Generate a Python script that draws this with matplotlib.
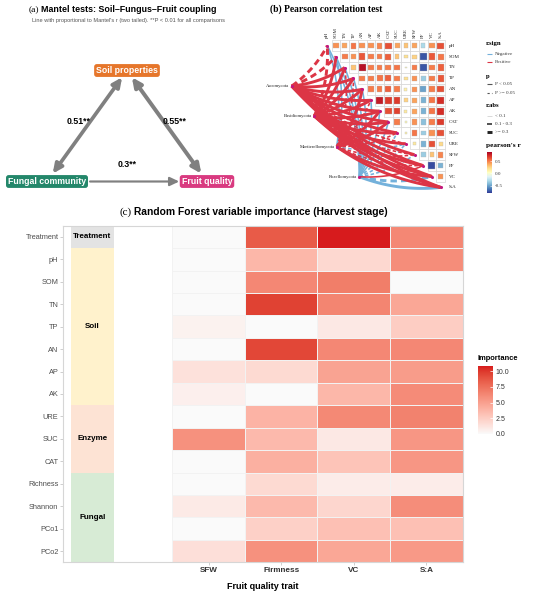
import numpy as np
import matplotlib
matplotlib.use("Agg")
import matplotlib.pyplot as plt
from matplotlib.patches import Rectangle, FancyArrowPatch
from matplotlib.colors import ListedColormap, Normalize, to_rgb
from matplotlib.cm import ScalarMappable

# ======================= DATA =======================
# (a) Mantel tests
mantel_nodes = ["Soil properties", "Fungal community", "Fruit quality"]
mantel_colors = ["#E6762B", "#23876A", "#D93A80"]
mantel_from = ["Fungal community", "Soil properties", "Fungal community"]
mantel_to = ["Soil properties", "Fruit quality", "Fruit quality"]
mantel_r = [0.51, 0.55, 0.3]
mantel_sig = ["**", "**", "**"]
mantel_twoway = [True, True, False]

# (b) Pearson correlation among soil / fruit variables (upper triangle)
env_vars = ["pH", "SOM", "TN", "TP", "AN", "AP", "AK", "CAT", "SUC", "URE",
            "SFW", "FF", "VC", "S:A"]
corr_pH = [0.45, 0.40, 0.52, 0.45, 0.45, 0.48, 0.62, 0.40, 0.30, 0.40, -0.30, 0.45, 0.62]
corr_SOM = [0.50, 0.45, 0.60, 0.50, 0.50, 0.58, 0.30, 0.20, 0.25, -0.72, 0.60, 0.52]
corr_TN = [0.30, 0.82, 0.50, 0.50, 0.50, 0.52, 0.05, 0.50, -0.72, 0.50, 0.58]
corr_TP = [0.50, 0.50, 0.52, 0.58, 0.50, 0.20, 0.45, -0.35, 0.50, 0.60]
corr_AN = [0.50, 0.50, 0.58, 0.50, 0.12, 0.45, -0.50, 0.50, 0.62]
corr_AP = [0.78, 0.68, 0.68, 0.25, 0.40, -0.45, 0.52, 0.72]
corr_AK = [0.62, 0.66, 0.15, 0.40, -0.45, 0.52, 0.72]
corr_CAT = [0.50, 0.05, 0.45, -0.40, 0.50, 0.68]
corr_SUC = [0.10, 0.52, -0.35, 0.45, 0.62]
corr_URE = [0.15, -0.45, 0.62, 0.22]
corr_SFW = [-0.35, 0.30, 0.48]
corr_FF = [-0.75, -0.45]
corr_VC = [0.45]
corr_upper = [corr_pH, corr_SOM, corr_TN, corr_TP, corr_AN, corr_AP, corr_AK,
              corr_CAT, corr_SUC, corr_URE, corr_SFW, corr_FF, corr_VC, []]

taxa = ["Ascomycota", "Basidiomycota", "Mortierellomycota", "Rozellomycota"]
r_Asc = [0.32, 0.35, 0.45, 0.42, 0.45, 0.48, 0.45, 0.45, 0.40, 0.25, 0.35, 0.35, 0.42, 0.45]
p_Asc = [0.08, 0.07, 0.01, 0.01, 0.01, 0.01, 0.01, 0.01, 0.02, 0.10, 0.04, 0.03, 0.01, 0.01]
r_Bas = [0.30, 0.38, 0.42, 0.40, 0.42, 0.45, 0.44, 0.42, 0.38, 0.32, 0.28, 0.32, 0.40, 0.42]
p_Bas = [0.06, 0.02, 0.01, 0.01, 0.01, 0.01, 0.01, 0.01, 0.03, 0.04, 0.09, 0.04, 0.01, 0.01]
r_Mor = [-0.22, -0.18, 0.28, 0.25, 0.32, 0.28, 0.32, 0.36, 0.25, -0.20, 0.24, 0.22, 0.38, 0.36]
p_Mor = [0.03, 0.04, 0.07, 0.08, 0.03, 0.09, 0.02, 0.01, 0.08, 0.12, 0.10, 0.09, 0.01, 0.01]
r_Roz = [-0.25, -0.24, -0.26, -0.25, -0.26, -0.22, -0.20, -0.24, -0.18, -0.22, -0.16, 0.28, -0.34, -0.40]
p_Roz = [0.03, 0.03, 0.02, 0.03, 0.02, 0.04, 0.04, 0.03, 0.09, 0.10, 0.12, 0.03, 0.07, 0.01]
link_r = [r_Asc, r_Bas, r_Mor, r_Roz]
link_p = [p_Asc, p_Bas, p_Mor, p_Roz]

# (c) Random forest importance
predictors = ["Treatment", "pH", "SOM", "TN", "TP", "AN", "AP", "AK",
              "URE", "SUC", "CAT", "Richness", "Shannon", "PCo1", "PCo2"]
traits = ["SFW", "Firmness", "VC", "S:A"]
imp_SFW = [0.0, 0.0, 0.0, 0.0, 0.5, 0.0, 1.4, 0.6, 0.0, 5.8, 0.0, 0.0, 0.9, 0.0, 1.5]
imp_Firmness = [8.5, 3.7, 6.3, 9.6, 0.0, 9.4, 1.8, 0.0, 3.9, 3.6, 4.1, 1.8, 3.6, 2.3, 5.8]
imp_VC = [10.8, 1.9, 6.8, 6.4, 1.0, 6.3, 4.8, 3.7, 6.2, 1.0, 3.0, 0.8, 2.0, 3.2, 4.6]
imp_SA = [6.3, 6.0, 0.0, 4.6, 2.5, 6.3, 5.2, 6.1, 6.6, 5.5, 5.5, 0.8, 6.0, 3.2, 5.3]
groups = ["Treatment", "Soil", "Enzyme", "Fungal"]
group_sizes = [1, 7, 3, 4]
group_colors = ["#E3E3E3", "#FFF2CC", "#FDE3D4", "#D7EBD5"]

# ======================= FIGURE =======================
W, H = 550, 595
fig = plt.figure(figsize=(W / 100, H / 100), dpi=100)
SANS = "Liberation Sans"
SERIF = "Liberation Serif"


def px_axes(x0, y0, x1, y1):
    return fig.add_axes([x0 / W, 1 - y1 / H, (x1 - x0) / W, (y1 - y0) / H])


# overlay for panel (a) and titles
ov = px_axes(0, 0, W, H)
ov.set_xlim(0, W)
ov.set_ylim(H, 0)
ov.axis("off")
ov.patch.set_visible(False)

# ---------- (a) ----------
ov.text(39.5, 10, "(a)", fontfamily=SERIF, fontsize=6.8, ha="right", va="center")
ov.text(40.7, 10, "Mantel tests: Soil\u2013Fungus\u2013Fruit coupling", fontfamily=SANS,
        fontsize=6.4, fontweight="bold", ha="left", va="center")
ov.text(128, 20.5, "Line with proportional to Mantel's r (two tailed). **P < 0.01 for all comparisons",
        fontfamily=SANS, fontsize=4.1, color="#555555", ha="center", va="center")

node_pos = {"Soil properties": (127, 70.5), "Fungal community": (47, 181.5),
            "Fruit quality": (207, 181.5)}
node_shrink = {("Fungal community", "Soil properties"): (7, 6),
               ("Soil properties", "Fruit quality"): (6, 7),
               ("Fungal community", "Fruit quality"): (31, 20)}
label_off = [(-8, -4), (8, -4), (0, -17)]
for k in range(len(mantel_r)):
    a = node_pos[mantel_from[k]]
    b = node_pos[mantel_to[k]]
    sA, sB = node_shrink[(mantel_from[k], mantel_to[k])]
    style = "<|-|>" if mantel_twoway[k] else "-|>"
    arr = FancyArrowPatch(a, b, arrowstyle=f"{style},head_length=5.5,head_width=2.6",
                          mutation_scale=1, lw=5.2 * mantel_r[k], color="#808080",
                          shrinkA=sA, shrinkB=sB, zorder=2)
    ov.add_patch(arr)
    mx, my = (a[0] + b[0]) / 2 + label_off[k][0], (a[1] + b[1]) / 2 + label_off[k][1]
    ov.text(mx, my, f"{mantel_r[k]:g}{mantel_sig[k]}", fontfamily=SANS, fontsize=6.3,
            fontweight="bold", ha="center", va="center", zorder=3)
for name, col in zip(mantel_nodes, mantel_colors):
    x, y = node_pos[name]
    ov.text(x, y, name, fontfamily=SANS, fontsize=6.3, fontweight="bold", color="white",
            ha="center", va="center", zorder=4,
            bbox=dict(boxstyle="round,pad=0.22,rounding_size=0.3", fc=col, ec="none"))

# ---------- (b) ----------
ov.text(270, 9.5, "(b) Pearson correlation test", fontfamily=SERIF, fontsize=6.9,
        fontweight="bold", ha="left", va="center")

X0, DX, Y0, DY = 327.3, 8.72, 45.7, 10.9   # pixel position of cell (0,0) & pitch
axb = px_axes(250, 0, 550, 195)
axb.set_xlim((250 - X0) / DX, (550 - X0) / DX)
axb.set_ylim((195 - Y0) / DY, (0 - Y0) / DY)
axb.axis("off")
axb.patch.set_visible(False)

cmap_r = plt.get_cmap("RdYlBu_r")
norm_r = Normalize(-0.81, 0.88)
n = len(env_vars)
for i, row in enumerate(corr_upper):
    for kk, r in enumerate(row):
        j = i + 1 + kk
        axb.add_patch(Rectangle((j - 0.5, i - 0.5), 1, 1, fc="white", ec="#D2D2D2",
                                lw=0.45, zorder=1))
        side = min(0.88, 0.84 * np.sqrt(abs(r) / 0.82)) * DX
        w, h = side / DX, side / DY
        axb.add_patch(Rectangle((j - w / 2, i - h / 2), w, h, fc=cmap_r(norm_r(r)),
                                ec="#B5B5B5", lw=0.25, zorder=2))
for i, v in enumerate(env_vars):
    axb.text(n - 0.5 + (449 - (X0 + DX * (n - 0.5))) / DX, i, v, fontfamily=SERIF,
             fontsize=3.6, ha="left", va="center", color="#222222")
    axb.text(i, -0.72, v, fontfamily=SERIF, fontsize=3.6, rotation=90, ha="center",
             va="bottom", color="#222222")

taxa_cell = [(-4.08, 3.70), (-1.49, 6.45), (1.08, 9.27), (3.67, 12.02)]
RED, BLUE = "#DC3545", "#74B1DB"
links = []
for t in range(len(taxa)):
    for i in range(n):
        links.append((t, i, link_r[t][i], link_p[t][i]))


def width_of(r):
    a = abs(r)
    return 0.45 if a < 0.1 else (1.15 if a < 0.3 else 2.1)


links.sort(key=lambda L: (L[2] > 0, width_of(L[2])))
tt = np.linspace(0, 1, 40)
for t, i, r, p in links:
    sx, sy = X0 + DX * taxa_cell[t][0], Y0 + DY * taxa_cell[t][1]
    ex, ey = X0 + DX * i, Y0 + DY * i
    k = 0.12
    cx = (sx + ex) / 2 - k * (ey - sy)
    cy = (sy + ey) / 2 + k * (ex - sx)
    bx = (1 - tt) ** 2 * sx + 2 * (1 - tt) * tt * cx + tt ** 2 * ex
    by = (1 - tt) ** 2 * sy + 2 * (1 - tt) * tt * cy + tt ** 2 * ey
    ls = "-" if p < 0.05 else (0, (2.2, 1.4))
    axb.plot((bx - X0) / DX, (by - Y0) / DY, color=RED if r > 0 else BLUE,
             lw=width_of(r), ls=ls, solid_capstyle="butt", zorder=3)

axb.scatter(range(n), range(n), s=5, color="#C2187E", zorder=5, lw=0)
for t, name in enumerate(taxa):
    axb.scatter([taxa_cell[t][0]], [taxa_cell[t][1]], s=5, color="#C2187E", zorder=5, lw=0)
    axb.text(taxa_cell[t][0] - 0.25, taxa_cell[t][1], name, fontfamily=SERIF, fontsize=3.4,
             ha="right", va="center", color="#222222")

# legend of (b), placed in figure pixels
LX = 486
ov.text(LX, 43, "r.sign", fontfamily=SERIF, fontsize=4.8, fontweight="bold", va="center")
leg_items = [(54.3, "Negative", BLUE, "-", 0.8), (62.3, "Positive", RED, "-", 0.8)]
ov.text(LX, 76.7, "p", fontfamily=SERIF, fontsize=4.8, fontweight="bold", va="center")
leg_items += [(84.3, "P < 0.05", "#555555", "-", 0.8), (92.7, "P >= 0.05", "#555555", (0, (2, 2)), 0.8)]
ov.text(LX, 105.7, "r.abs", fontfamily=SERIF, fontsize=4.8, fontweight="bold", va="center")
leg_items += [(116, "< 0.1", "#BBBBBB", "-", 0.4), (124.3, "0.1 - 0.3", "#222222", "-", 1.1),
              (132.3, ">= 0.3", "#222222", "-", 2.1)]
for y, lab, col, ls, lw in leg_items:
    ov.plot([487.3, 491.7], [y, y], color=col, ls=ls, lw=lw, solid_capstyle="butt")
    ov.text(495, y, lab, fontfamily=SERIF, fontsize=3.6, va="center", color="#333333")
ov.text(LX, 145.7, "pearson's r", fontfamily=SERIF, fontsize=5.2, fontweight="bold", va="center")
caxb = px_axes(486.7, 151.7, 492.3, 193.3)
cbb = fig.colorbar(ScalarMappable(norm=norm_r, cmap=cmap_r), cax=caxb, ticks=[-0.5, 0, 0.5])
cbb.outline.set_visible(False)
cbb.ax.set_yticklabels(["-0.5", "0.0", "0.5"])
caxb.tick_params(labelsize=3.6, length=1.5, width=0.4, color="white", direction="in", pad=1.5,
                 labelcolor="#333333")
for lab in caxb.get_yticklabels():
    lab.set_fontfamily(SERIF)

# ---------- (c) ----------
ov.text(132, 211.7, "(c)", fontfamily=SERIF, fontsize=8, ha="right", va="center")
ov.text(134.3, 211.7, "Random Forest variable importance (Harvest stage)", fontfamily=SANS,
        fontsize=7.4, fontweight="bold", ha="left", va="center")


def srgb_to_lab(rgb):
    c = np.asarray(rgb, float)
    lin = np.where(c <= 0.04045, c / 12.92, ((c + 0.055) / 1.055) ** 2.4)
    M = np.array([[0.4124, 0.3576, 0.1805], [0.2126, 0.7152, 0.0722], [0.0193, 0.1192, 0.9505]])
    xyz = M @ lin / np.array([0.95047, 1.0, 1.08883])
    f = np.where(xyz > 0.008856, np.cbrt(xyz), 7.787 * xyz + 16 / 116)
    return np.array([116 * f[1] - 16, 500 * (f[0] - f[1]), 200 * (f[1] - f[2])])


def lab_to_srgb(lab):
    L, a, b = lab
    fy = (L + 16) / 116
    fx, fz = fy + a / 500, fy - b / 200
    f = np.array([fx, fy, fz])
    xyz = np.where(f ** 3 > 0.008856, f ** 3, (f - 16 / 116) / 7.787) * np.array([0.95047, 1.0, 1.08883])
    Minv = np.array([[3.2406, -1.5372, -0.4986], [-0.9689, 1.8758, 0.0415], [0.0557, -0.2040, 1.0570]])
    lin = Minv @ xyz
    c = np.where(lin <= 0.0031308, 12.92 * lin, 1.055 * np.clip(lin, 0, None) ** (1 / 2.4) - 0.055)
    return np.clip(c, 0, 1)


lo, hi = srgb_to_lab(to_rgb("#FAFAFA")), srgb_to_lab(to_rgb("#D7191C"))
cmap_imp = ListedColormap([lab_to_srgb(lo + (hi - lo) * s) for s in np.linspace(0, 1, 256)])
norm_imp = Normalize(0, 10.85)

axc = px_axes(63.3, 225.7, 462.7, 562.3)
Z = np.column_stack([imp_SFW, imp_Firmness, imp_VC, imp_SA])
xe = np.arange(len(traits) + 1) + 1.5
ye = np.arange(len(predictors) + 1) - 0.5
axc.pcolormesh(xe, ye, Z, cmap=cmap_imp, norm=norm_imp, edgecolors="#F2F2F2", linewidth=0.7)
start = 0
for g, sz, col in zip(groups, group_sizes, group_colors):
    axc.add_patch(Rectangle((0.1, start - 0.5), 0.6, sz, fc=col, ec="none"))
    axc.text(0.4, start - 0.5 + sz / 2, g, fontfamily=SANS, fontsize=5.8, fontweight="bold",
             ha="center", va="center")
    start += sz
axc.set_xlim(0, 1.5 + len(traits))
axc.set_ylim(len(predictors) - 0.5, -0.5)
axc.set_xticks(np.arange(len(traits)) + 2)
axc.set_xticklabels(traits, fontfamily=SANS, fontsize=5.9, fontweight="bold", color="#333333")
axc.set_yticks(np.arange(len(predictors)))
axc.set_yticklabels(predictors, fontfamily=SANS, fontsize=5.3, color="#4D4D4D")
axc.tick_params(length=2, width=0.5, color="#BBBBBB", pad=1.5)
axc.set_xlabel("Fruit quality trait", fontfamily=SANS, fontsize=6.5, fontweight="bold", labelpad=6)
for s in axc.spines.values():
    s.set_color("#D6D6D6")
    s.set_linewidth(0.8)

ov.text(478, 358, "Importance", fontfamily=SANS, fontsize=5.4, fontweight="bold", va="center")
caxc = px_axes(478, 365.7, 492.7, 434)
cbc = fig.colorbar(ScalarMappable(norm=norm_imp, cmap=cmap_imp), cax=caxc,
                   ticks=[0, 2.5, 5, 7.5, 10])
cbc.outline.set_visible(False)
cbc.ax.set_yticklabels(["0.0", "2.5", "5.0", "7.5", "10.0"])
caxc.tick_params(labelsize=5, length=2.5, width=0.5, color="white", direction="in", pad=2,
                 labelcolor="#333333")
for lab in caxc.get_yticklabels():
    lab.set_fontfamily(SANS)

fig.savefig("out.png", dpi=100)
